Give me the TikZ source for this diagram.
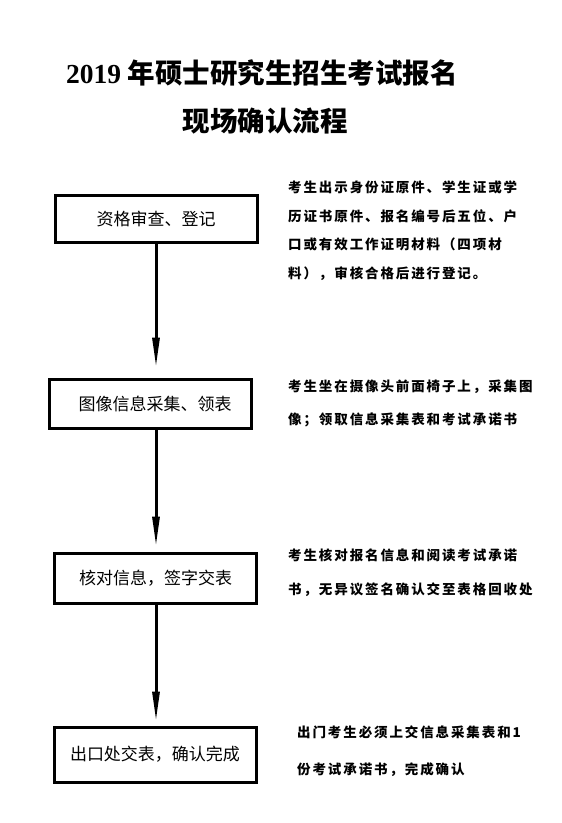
\documentclass[tikz,border=0pt]{standalone}
\usepackage{fontspec}
\usetikzlibrary{arrows.meta}
\setmainfont{Liberation Serif}
\newfontfamily\cjk{Noto Sans CJK SC}
\newfontfamily\notefont[LetterSpace=14]{Noto Sans CJK SC}

\begin{document}
\begin{tikzpicture}[x=1pt, y=-1pt,
    stepbox/.style={draw, line width=3pt, minimum width=202pt, minimum height=48pt,
                    inner sep=0pt, font=\cjk\fontsize{17}{20}\selectfont},
    note/.style={anchor=north west, align=left, inner sep=0pt,
                 font=\notefont\bfseries\fontsize{13.5}{15}\selectfont},
    flow/.style={line width=3pt, -{Triangle[length=30pt, width=7pt]}}]
    \useasboundingbox (0,0) rectangle (562,823);

    % title
    \node (title1) at (262,73) {\fontsize{27.5}{30}\selectfont\bfseries 2019 {\cjk 年硕士研究生招生考试报名}};
    \node (title2) at (265,121) {\cjk\bfseries\fontsize{27.5}{30}\selectfont 现场确认流程};

    % steps
    \node[stepbox, minimum height=47pt] (b1) at (156,218.5) {资格审查、登记};
    \node[stepbox, minimum height=49pt] (b2) at (150,403.5) {\hspace{10pt}图像信息采集、领表};
    \node[stepbox, minimum height=50pt] (b3) at (155.5,578) {核对信息，签字交表};
    \node[stepbox, minimum height=55pt] (b4) at (155,754.5) {出口处交表，确认完成};

    \draw[flow, shorten >=10pt] (b1.south) -- (b1.south |- b2.north);
    \draw[flow, shorten >=5pt] (b1.south |- b2.south) -- (b1.south |- b3.north);
    \draw[flow, shorten >=4pt] (b1.south |- b3.south) -- (b1.south |- b4.north);

    % notes
    \node[note] (t1) at (288,181) {考生出示身份证原件、学生证或学\\[13.5pt]历证书原件、报名编号后五位、户\\[13.5pt]口或有效工作证明材料（四项材\\[13.5pt]料），审核合格后进行登记。};
    \node[note] (t2) at (288,380) {考生坐在摄像头前面椅子上，采集图\\[18pt]像；领取信息采集表和考试承诺书};
    \node[note] (t3) at (288,549) {考生核对报名信息和阅读考试承诺\\[19pt]书，无异议签名确认交至表格回收处};
    \node[note] (t4) at (297,726) {出门考生必须上交信息采集表和1\\[22pt]份考试承诺书，完成确认};
\end{tikzpicture}
\end{document}
